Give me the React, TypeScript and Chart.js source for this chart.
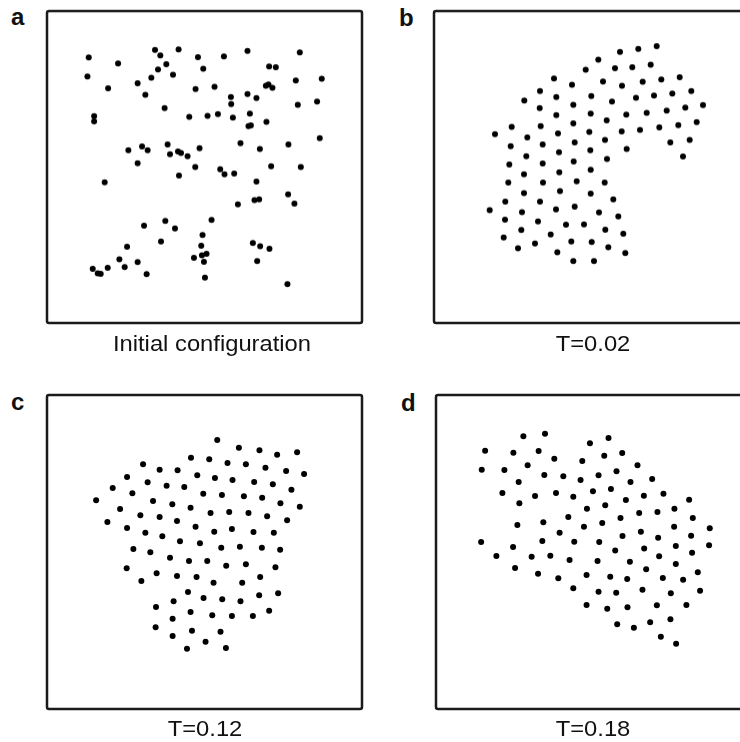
import React, { useEffect, useRef } from "react";
import { Chart, registerables } from "chart.js";
Chart.register(...registerables);

// Panel labels and captions
const panelLetters = ["a", "b", "c", "d"];
const panelCaptions = ["Initial configuration", "T=0.02", "T=0.12", "T=0.18"];

// Panel a: initial configuration (x, y, panel frame units)
const aX = [88.3,117.7,87,107.7,154.7,160,178.3,166,157.7,151,172.7,137.3,145,197.7,203,223.7,247.3,299.7,269,275.7,195.3,214.3,230.7,231,247.3,256.3,265.7,268.3,272.3,295.7,321.7,297.7,317,164.3,93.7,93.7,189,207.3,217.7,232.7,249.7,248.3,250.7,266.3,319.7,240.3,259.7,288.3,128,141.7,147.3,167.3,169.7,177.7,180.7,187.3,199.3,137.3,195,220,271,300.7,224.3,234,104.3,178.7,256.3,288,294.3,237.7,254.3,259,211.3,165,174.7,143.7,202.3,160.7,201,126.7,252.7,260,269.3,119,137.3,193.7,201.7,206.3,203.7,257,92.3,97.3,100.3,107.3,124.3,146.3,204.7,287.3];
const aY = [57.3,63.3,76.3,88,49.7,55.3,49.3,64,69.3,77.7,74.7,83,94.7,57,68.7,56.3,50.7,52.3,66.3,67,89,86.7,97,104,94,98,85.7,84.3,87.7,80.3,78.7,104.7,101.3,108,116,121.3,116.7,115.7,114,117.3,113.3,126,125.3,121.7,138,143,148.7,144.3,150,146.3,150,144.3,154,151.3,152.7,156,148,163,166.7,169,166,166.7,174,173.3,182,175.3,181.3,194,203.3,204,199.7,199,219.7,220.7,228,225.3,234.7,241,245.3,246.3,242.7,246,248.3,259,261.7,257.3,255,253.3,261.3,260.7,268.3,273,273.3,267.3,266.7,273.7,277.3,283.7];

// Panel b: T=0.02
const bX = [656.7,638.3,620,598.3,650.7,632.3,615,585.7,554,572,603,622,642.7,661.3,679.7,540,524.3,556.3,591.3,612,636,654,672.3,691.3,703,539.7,573.3,556.3,590.7,626.3,646.7,666.7,685.3,696.7,606.7,511.7,540.7,573.3,495,527.3,558,589.3,621.7,640,659.3,678.3,510.7,542.7,574.7,605,670.3,689.7,526.3,559,590.3,626.7,683,509.3,542.7,573.7,607,590.7,524,559.3,508.3,543,576.7,604.7,524,560,590.7,613.3,505.3,540,489.7,522,556,574.7,599,618.3,505,538,566,584,521.3,605.3,623.3,503.7,550.7,571.3,591.7,535,518,608.3,557.3,625.3,573.3,594];
const bY = [46,48.7,51.7,59.7,64.7,67,68,69.7,78.3,84.7,81.3,85.7,81.7,79.3,77,91,100.3,97,96,101.3,97.7,95.3,93.3,91,105,108,104.7,115,113.3,114.3,112.7,110.3,107.3,122,120.3,126.7,126,123.3,134,137.3,133.3,131.7,131.3,129.7,127.3,125,146,144.3,142.3,139.7,142.3,139.7,156,152,150,148.7,156.3,164.3,163.3,161.3,158.7,169.5,174,172,182.3,182.3,181,182.3,192.7,190.7,193.3,199,201.3,201.3,209.7,211.7,209,206.3,212,216,219.3,221,224.3,224,229.7,229.3,233.3,237,234,241,241.7,243,248,247,252,252.7,260.7,260.7];

// Panel c: T=0.12
const cX = [217,238.7,259.3,277,297,190.7,209,227.3,245.7,265.3,286,304,142.7,159.3,177.3,126.7,147.3,166.3,184,197,214.7,232.3,254,272.7,291.3,112.3,132,203,221.7,243.7,262,280.3,299.7,95.7,152.7,172,190.3,119.7,140,159.3,176.7,210.3,229,248.3,267,287,107,126.7,145,162,195.3,214,231.7,253.3,273.7,179.7,199.7,221,239.7,261.7,280,133,150,169.7,188.7,207,226,245.7,275.3,126.3,156.3,176.7,196.3,213.3,242,260,141,187.7,203.3,222,240.3,259,278,155.7,173.3,172.3,190.3,212,231.7,252.7,269,155.3,172.3,191.7,220.3,205.3,186.7,225.7];
const cY = [440,447.7,450.3,454.7,452.3,457.7,459.3,463,464.3,467.7,471,474,464.3,469.7,470.3,477,482.3,485.7,487,475.3,478,480,482,484.3,489.7,488,493.3,493.7,495,496.3,497.7,503.3,506.7,500.3,501,504.3,507.7,509,515.3,517,521,513,512,513,516.3,520.3,522,528,532.7,536.3,526.7,531.7,529,532,532.7,541.3,543.3,547.7,546.7,547.7,549.7,549,552.3,557.7,561,561,565.7,564.3,567.3,568.3,573.3,576,577,582.7,582.7,577,581,592,598,599.3,601.3,595.3,593.3,607,601.3,618.7,612,615.3,616,616,610.7,627.3,636,630.7,631.7,641.7,648.7,648];

// Panel d: T=0.18
const dX = [523,544.7,484.7,513,538.3,589.7,608.3,481.3,504,527.3,554,582,604,622,637.3,518.3,544,563,580.3,598.3,616.3,630.3,652,502,534.7,555.7,573,592.7,610.7,625.7,643.7,663.3,689,519,586.7,605,639,657.3,674.3,692.7,568,620.3,517,543,583.7,602,640.7,674,709.7,559.3,622.3,658,691,480.7,512.7,542,574,599,675.7,709,644,615,496,531.3,550,569.3,597.3,629.7,659,692,675.7,514.7,537.7,558,586.3,610,627,646,662.7,683,697.7,573,598.3,616,642.3,670.7,700,586.3,607,627.3,656.7,686.3,617,633.7,650,670.3,660.7,676];
const dY = [436.3,433.7,450.7,452.7,451,443.3,438,469.7,470,465.3,458.7,461,455.7,453,465.3,482,475,476.3,480,475.3,471.3,482,479,493,496,493,496.7,491.3,489,500,495.7,493.7,499.7,503.3,508.7,505.3,513,512,508.7,518,517,518,525,522.3,526.7,523,531.7,526.7,528.3,532.7,536,537.7,535.7,542,547,541,541.7,542,546,545.3,548.5,550.5,556,556.7,555.7,560,561,561.7,556.3,552.7,564,568,573.7,578.3,575,576.7,579,569.3,578,579.7,572.3,588.3,591.7,592.7,589.7,593.3,590.7,605,608.7,607.3,605.3,605,624.3,627.7,622.3,619.3,636.7,643.7];

// Layout frames (panel boxes on the page)
const FRAMES = [
  { x0: 46.5, x1: 362, y0: 11, y1: 322.5 },
  { x0: 434, x1: 750, y0: 11, y1: 322.5 },
  { x0: 46.5, x1: 362, y0: 395, y1: 709 },
  { x0: 435.5, x1: 751, y0: 395, y1: 709 },
];
const SERIES = [
  [aX, aY],
  [bX, bY],
  [cX, cY],
  [dX, dY],
];
const PAD = 10;

const boxPlugin = {
  id: "boxFrame",
  afterDraw(chart: any) {
    const { ctx, chartArea } = chart;
    ctx.save();
    ctx.strokeStyle = "#1a1a1a";
    ctx.lineWidth = 2.5;
    ctx.beginPath();
    const r = 2;
    const { left, top, right, bottom } = chartArea;
    ctx.moveTo(left + r, top);
    ctx.lineTo(right - r, top);
    ctx.quadraticCurveTo(right, top, right, top + r);
    ctx.lineTo(right, bottom - r);
    ctx.quadraticCurveTo(right, bottom, right - r, bottom);
    ctx.lineTo(left + r, bottom);
    ctx.quadraticCurveTo(left, bottom, left, bottom - r);
    ctx.lineTo(left, top + r);
    ctx.quadraticCurveTo(left, top, left + r, top);
    ctx.stroke();
    ctx.restore();
  },
};

function Panel({ idx }: { idx: number }) {
  const ref = useRef<HTMLCanvasElement | null>(null);
  const f = FRAMES[idx];
  const w = f.x1 - f.x0 + PAD * 2;
  const h = f.y1 - f.y0 + PAD * 2;
  useEffect(() => {
    if (!ref.current) return;
    const [xs, ys] = SERIES[idx];
    const chart = new Chart(ref.current, {
      type: "scatter",
      data: {
        datasets: [
          {
            data: xs.map((x, i) => ({ x, y: ys[i] })),
            pointRadius: 3,
            pointHoverRadius: 3,
            backgroundColor: "#000",
            borderWidth: 0,
          },
        ],
      },
      options: {
        animation: false,
        responsive: false,
        maintainAspectRatio: false,
        layout: { padding: PAD },
        plugins: { legend: { display: false }, tooltip: { enabled: false } },
        scales: {
          x: { type: "linear", min: f.x0, max: f.x1, display: false },
          y: { type: "linear", min: f.y0, max: f.y1, reverse: true, display: false },
        },
      },
      plugins: [boxPlugin],
    });
    return () => chart.destroy();
  }, [idx]);
  return (
    <canvas
      ref={ref}
      width={w}
      height={h}
      style={{ position: "absolute", left: f.x0 - PAD, top: f.y0 - PAD, width: w, height: h }}
    />
  );
}

const LETTER_POS = [
  { left: 11, top: 5 },
  { left: 399, top: 6 },
  { left: 11, top: 390 },
  { left: 401, top: 391 },
];
const CAPTION_POS = [
  { cx: 211.5, top: 333 },
  { cx: 593, top: 333 },
  { cx: 205, top: 718 },
  { cx: 592.5, top: 718 },
];

export default function App() {
  return (
    <div
      style={{
        position: "fixed",
        left: 0,
        top: 0,
        width: 740,
        height: 742,
        overflow: "hidden",
        background: "#fff",
        fontFamily: "'Liberation Sans', Arial, Helvetica, sans-serif",
        color: "#111",
      }}
    >
      {[0, 1, 2, 3].map((i) => (
        <Panel key={"p" + i} idx={i} />
      ))}
      {panelLetters.map((t, i) => (
        <div
          key={"l" + i}
          style={{
            position: "absolute",
            left: LETTER_POS[i].left,
            top: LETTER_POS[i].top,
            fontSize: 24,
            lineHeight: "24px",
            fontWeight: "bold",
          }}
        >
          {t}
        </div>
      ))}
      {panelCaptions.map((t, i) => (
        <div
          key={"c" + i}
          style={{
            position: "absolute",
            left: CAPTION_POS[i].cx - 150,
            width: 300,
            top: CAPTION_POS[i].top,
            textAlign: "center",
            fontSize: 22,
            lineHeight: "22px",
            transform: "scaleX(1.08)",
            whiteSpace: "nowrap",
          }}
        >
          {t}
        </div>
      ))}
    </div>
  );
}
